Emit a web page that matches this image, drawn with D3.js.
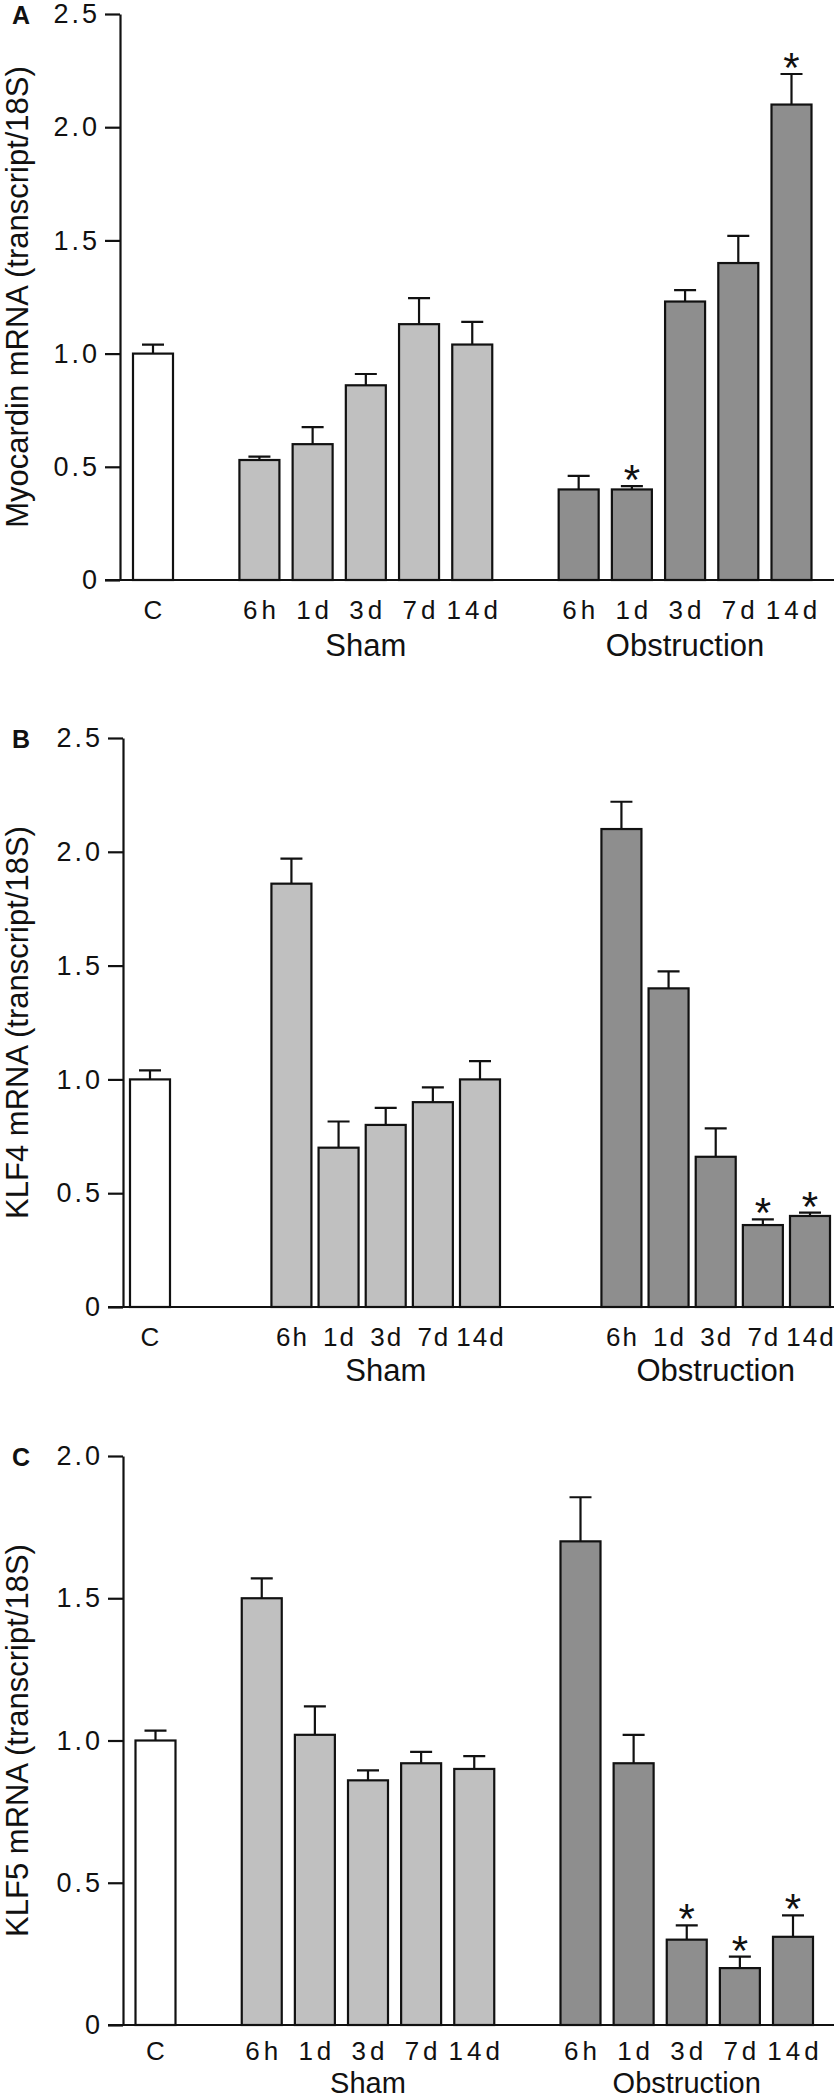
<!DOCTYPE html>
<html>
<head>
<meta charset="utf-8">
<script src="https://cdn.jsdelivr.net/npm/d3@7"></script>
<style>
  body { margin: 0; background: #fff; }
  text { font-family: "Liberation Sans", Arial, Helvetica, sans-serif; fill: #111; }
</style>
</head>
<body>
<div id="chart"></div>
<script>
// Time points and groups
const timePoints = ["6h", "1d", "3d", "7d", "14d"];
const groupNames = ["Sham", "Obstruction"];

// Panel A - Myocardin
const myoControl = 1.0, myoControlErr = 0.04;
const myoSham = [0.53, 0.60, 0.86, 1.13, 1.04];
const myoShamErr = [0.015, 0.075, 0.05, 0.115, 0.10];
const myoObs = [0.40, 0.40, 1.23, 1.40, 2.10];
const myoObsErr = [0.06, 0.015, 0.05, 0.12, 0.135];
const myoStars = [false, true, false, false, true];

// Panel B - KLF4
const klf4Control = 1.0, klf4ControlErr = 0.04;
const klf4Sham = [1.86, 0.70, 0.80, 0.90, 1.00];
const klf4ShamErr = [0.11, 0.115, 0.075, 0.065, 0.08];
const klf4Obs = [2.10, 1.40, 0.66, 0.36, 0.40];
const klf4ObsErr = [0.12, 0.075, 0.125, 0.025, 0.015];
const klf4Stars = [false, false, false, true, true];

// Panel C - KLF5
const klf5Control = 1.0, klf5ControlErr = 0.035;
const klf5Sham = [1.50, 1.02, 0.86, 0.92, 0.90];
const klf5ShamErr = [0.07, 0.10, 0.035, 0.04, 0.045];
const klf5Obs = [1.70, 0.92, 0.30, 0.20, 0.31];
const klf5ObsErr = [0.155, 0.10, 0.05, 0.04, 0.075];
const klf5Stars = [false, false, true, true, true];

const yTicksAB = [0, 0.5, 1.0, 1.5, 2.0, 2.5];
const yTicksC = [0, 0.5, 1.0, 1.5, 2.0];

const W = 836, H = 2100;
const svg = d3.select("#chart").append("svg")
    .attr("width", W).attr("height", H);
svg.append("rect").attr("width", W).attr("height", H).attr("fill", "#fff");

const fills = {control: "#ffffff", sham: "#c0c0c0", obs: "#8e8e8e"};
const fmt = d => d === 0 ? "0" : d3.format(".1f")(d);

const panels = [
  {letter: "A", ylabel: "Myocardin mRNA (transcript/18S)", ymax: 2.5, ticks: yTicksAB,
   control: myoControl, controlErr: myoControlErr, sham: myoSham, shamErr: myoShamErr,
   obs: myoObs, obsErr: myoObsErr, stars: myoStars,
   top: 14, bottom: 580, axisX: 120, slot0: 153, slotLast: 791.5, shamStart: 2, obsStart: 8,
   catY: 39, groupY: 656, groupSize: 31, catSpacing: 4},
  {letter: "B", ylabel: "KLF4 mRNA (transcript/18S)", ymax: 2.5, ticks: yTicksAB,
   control: klf4Control, controlErr: klf4ControlErr, sham: klf4Sham, shamErr: klf4ShamErr,
   obs: klf4Obs, obsErr: klf4ObsErr, stars: klf4Stars,
   top: 738, bottom: 1307, axisX: 123, slot0: 150, slotLast: 810, shamStart: 3, obsStart: 10,
   catY: 39, groupY: 1381, groupSize: 31, catSpacing: 2},
  {letter: "C", ylabel: "KLF5 mRNA (transcript/18S)", ymax: 2.0, ticks: yTicksC,
   control: klf5Control, controlErr: klf5ControlErr, sham: klf5Sham, shamErr: klf5ShamErr,
   obs: klf5Obs, obsErr: klf5ObsErr, stars: klf5Stars,
   top: 1456, bottom: 2025, axisX: 123, slot0: 155.5, slotLast: 793, shamStart: 2, obsStart: 8,
   catY: 35, groupY: 2093, groupSize: 29, catSpacing: 4}
];

const barW = 40;

panels.forEach(p => {
  const g = svg.append("g");
  const lastSlot = p.obsStart + timePoints.length - 1;
  const x = d3.scaleLinear().domain([0, lastSlot]).range([p.slot0, p.slotLast]);
  const y = d3.scaleLinear().domain([0, p.ymax]).range([p.bottom, p.top]);

  // bar records
  const bars = [{label: "C", v: p.control, e: p.controlErr, slot: 0, fill: fills.control, star: false}];
  timePoints.forEach((t, i) => bars.push({label: t, v: p.sham[i], e: p.shamErr[i], slot: p.shamStart + i, fill: fills.sham, star: false}));
  timePoints.forEach((t, i) => bars.push({label: t, v: p.obs[i], e: p.obsErr[i], slot: p.obsStart + i, fill: fills.obs, star: p.stars[i]}));

  // error bars (behind bars)
  g.selectAll(".err").data(bars).enter().append("path")
    .attr("fill", "none").attr("stroke", "#111").attr("stroke-width", 2.2)
    .attr("d", d => {
      const cx = x(d.slot), y0 = y(d.v), y1 = y(d.v + d.e);
      return `M${cx},${y0}V${y1}M${cx - 11},${y1}H${cx + 11}`;
    });

  g.selectAll(".bar").data(bars).enter().append("rect")
    .attr("x", d => x(d.slot) - barW / 2)
    .attr("y", d => y(d.v))
    .attr("width", barW)
    .attr("height", d => y(0) - y(d.v))
    .attr("fill", d => d.fill)
    .attr("stroke", "#111").attr("stroke-width", 2.2);

  // stars
  g.selectAll(".star").data(bars.filter(d => d.star)).enter().append("text")
    .attr("x", d => x(d.slot))
    .attr("y", d => y(d.v + d.e) + 8)
    .attr("text-anchor", "middle")
    .style("font-size", "42px")
    .text("*");

  // y axis
  const yAxis = d3.axisLeft(y).tickValues(p.ticks).tickFormat(fmt)
    .tickSize(15).tickSizeOuter(0).tickPadding(5);
  const ax = g.append("g").attr("transform", `translate(${p.axisX},0)`).call(yAxis);
  ax.select(".domain").attr("stroke", "#111").attr("stroke-width", 2.2);
  ax.selectAll(".tick line").attr("stroke", "#111").attr("stroke-width", 2.2);
  ax.selectAll(".tick text")
    .style("font-size", "27px").style("letter-spacing", "3px")
    .attr("fill", "#111").attr("font-family", null);

  // x axis baseline
  g.append("line")
    .attr("x1", p.axisX - 15).attr("x2", 834)
    .attr("y1", y(0)).attr("y2", y(0))
    .attr("stroke", "#111").attr("stroke-width", 2.2);

  // category labels
  g.selectAll(".cat").data(bars).enter().append("text")
    .attr("x", d => x(d.slot) + p.catSpacing / 2)
    .attr("y", y(0) + p.catY)
    .attr("text-anchor", "middle")
    .style("font-size", "26px").style("letter-spacing", p.catSpacing + "px")
    .text(d => d.label);

  // group labels
  [p.shamStart, p.obsStart].forEach((s, i) => {
    g.append("text")
      .attr("x", (x(s) + x(s + timePoints.length - 1)) / 2)
      .attr("y", p.groupY)
      .attr("text-anchor", "middle")
      .style("font-size", p.groupSize + "px")
      .text(groupNames[i]);
  });

  // y axis title
  g.append("text")
    .attr("transform", `translate(28,${(p.top + p.bottom) / 2}) rotate(-90)`)
    .attr("text-anchor", "middle")
    .style("font-size", "31px")
    .text(p.ylabel);

  // panel letter
  g.append("text")
    .attr("x", 12).attr("y", p.top + 10)
    .style("font-size", "25px").style("font-weight", "bold")
    .text(p.letter);
});
</script>
</body>
</html>
